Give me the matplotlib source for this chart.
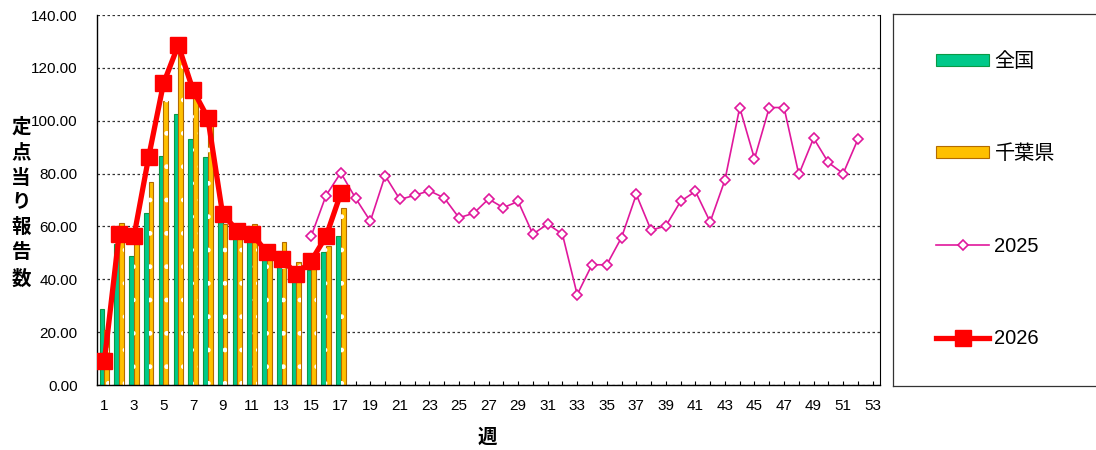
import numpy as np
import matplotlib
matplotlib.use("Agg")
import matplotlib.pyplot as plt

plt.rcParams['font.family'] = ['Liberation Sans', 'Noto Sans CJK JP', 'DejaVu Sans']

# data
weeks = np.arange(1, 54)
weeks_2026 = np.arange(1, 18)
zenkoku = [28.9, 53.5, 48.8, 65.2, 86.7, 102.4, 93.2, 86.4, 63.3, 55.5, 55.0,
           48.0, 50.9, 39.5, 43.6, 50.2, 56.5]
chiba = [21.0, 61.3, 59.0, 77.0, 107.6, 125.4, 109.1, 99.0, 61.0, 57.0, 60.9,
         49.0, 54.0, 46.4, 44.0, 52.5, 66.8]
y2026 = [9.1, 57.2, 56.2, 86.4, 114.1, 128.6, 111.6, 101.1, 64.7, 58.4, 57.1,
         50.2, 47.7, 42.0, 47.0, 56.2, 72.5]
weeks_2025 = np.arange(15, 53)
y2025 = [56.4, 71.7, 80.3, 70.7, 62.0, 79.2, 70.2, 71.8, 73.5, 70.8, 63.3,
         65.0, 70.4, 67.1, 69.5, 57.1, 60.9, 57.1, 34.2, 45.5, 45.5, 55.8,
         72.1, 58.6, 60.2, 69.5, 73.3, 61.7, 77.6, 105.0, 85.6, 105.0, 105.0,
         79.7, 93.4, 84.2, 80.0, 93.0]
xtick_labels = [str(w) if w % 2 == 1 else "" for w in weeks]

fig = plt.figure(figsize=(10.96, 4.5), dpi=100)
ax = fig.add_axes([0.0885, 0.1444, 0.7145, 0.8222])

bw = 0.32
b1 = ax.bar(weeks_2026 - bw / 2, zenkoku, width=bw, color="#00C98A",
            edgecolor="#0A9A45", linewidth=0.8, label="全国", zorder=2)
b2 = ax.bar(weeks_2026 + bw / 2, chiba, width=bw, color="#FFC000",
            edgecolor="#B36B00", linewidth=0.8, label="千葉県", zorder=2)
# white dot pattern on the prefecture bars
plt.rcParams['hatch.linewidth'] = 1.0
ax.bar(weeks_2026 + bw / 2, chiba, width=bw, color="none",
       edgecolor="white", linewidth=0, hatch=".", zorder=2)

l25, = ax.plot(weeks_2025, y2025, color="#E0189C", lw=1.2, marker="D",
               ms=5.5, mfc="white", mec="#E0189C", mew=1.2, label="2025", zorder=3)
l26, = ax.plot(weeks_2026, y2026, color="#FF0000", lw=3.8, marker="s",
               ms=11, mfc="#FF0000", mec="#FF0000", label="2026", zorder=4)

ax.set_xlim(0.5, 53.5)
ax.set_ylim(0, 140)
ax.set_xticks(weeks)
ax.set_xticklabels(xtick_labels, fontsize=11)
ax.set_yticks(np.arange(0, 141, 20))
ax.set_yticklabels([f"{v:.2f}" for v in np.arange(0, 141, 20)], fontsize=11)
ax.tick_params(axis="x", direction="in", length=3, width=0.8, pad=10)
ax.tick_params(axis="y", length=0, pad=14)
ax.yaxis.grid(True, linestyle=(0, (2, 2)), color="#333333", linewidth=0.9)
ax.set_axisbelow(True)
ax.spines["top"].set_visible(False)
ax.spines["left"].set_linewidth(1.0)
ax.spines["bottom"].set_linewidth(1.0)
ax.spines["right"].set_linewidth(0.8)

fig.text(0.0192, 0.549, "定\n点\n当\nり\n報\n告\n数", ha="center", va="center",
         fontsize=14, fontweight="bold", linespacing=1.45)
fig.text(0.4445, 0.027, "週", ha="center", va="center", fontsize=14,
         fontweight="bold")

# legend panel
lax = fig.add_axes([0.8148, 0.142, 0.25, 0.827])
lax.set_xticks([])
lax.set_yticks([])
for s in lax.spines.values():
    s.set_linewidth(0.9)
    s.set_color("#333333")
lax.legend([b1, b2, l25, l26], ["全国", "千葉県", "2025", "2026"],
           loc="center left", bbox_to_anchor=(0.157, 0.5), frameon=False,
           fontsize=14.5, labelspacing=3.65, handlelength=2.65,
           handleheight=0.55, handletextpad=0.25, borderpad=0, borderaxespad=0)

fig.savefig("out.png", dpi=100)
